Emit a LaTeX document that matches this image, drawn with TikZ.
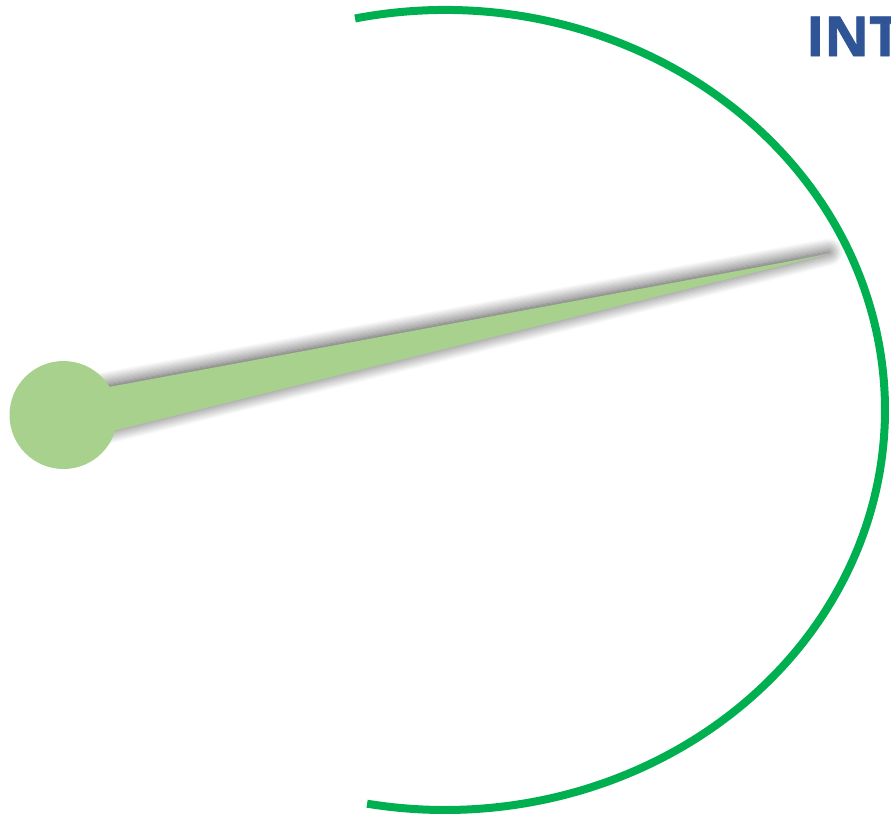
\documentclass[tikz,border=0pt]{standalone}
\usepackage{fontspec}
\newfontfamily\intfont{Open Sans Bold}[FakeBold=1.5]
\usetikzlibrary{shadows.blur}
\definecolor{arcgreen}{HTML}{00B050}
\definecolor{needlegreen}{HTML}{A9D18E}
\definecolor{titleblue}{HTML}{2F5597}
\tikzset{
  dialarc/.style={draw=arcgreen, line width=8pt, line cap=butt},
  needlebody/.style={fill=needlegreen, draw=none,
    blur shadow={shadow xshift=0pt, shadow yshift=2pt, shadow blur radius=14pt, shadow blur steps=12, shadow opacity=75}},
  hubdisc/.style={circle, fill=needlegreen, draw=none, minimum size=108pt, inner sep=0pt},
  titletext/.style={text=titleblue, font=\intfont\fontsize{55}{60}\selectfont, inner sep=0pt, anchor=base west}
}
\begin{document}
\begin{tikzpicture}[x=1pt, y=-1pt]
  \useasboundingbox (0,0) rectangle (891,820);
  \clip (0,0) rectangle (891,820);
  % dial arc (ellipse centre 445,410)
  \coordinate (dialcentre) at (445,410);
  \draw[dialarc] (dialcentre) ++(-101.8:440 and 400)
     arc[start angle=-101.8, end angle=100.2, x radius=440, y radius=400];
  % needle
  \coordinate (tip) at (829,254);
  \coordinate (baseup) at (63,395.4);
  \coordinate (baselow) at (63,443.2);
  \fill[needlebody] (baseup) -- (tip) -- (baselow) -- cycle;
  \node[hubdisc] (hub) at (63.5,415) {};
  % title
  \node[titletext] (title) at (806,56) {INT};
\end{tikzpicture}
\end{document}
